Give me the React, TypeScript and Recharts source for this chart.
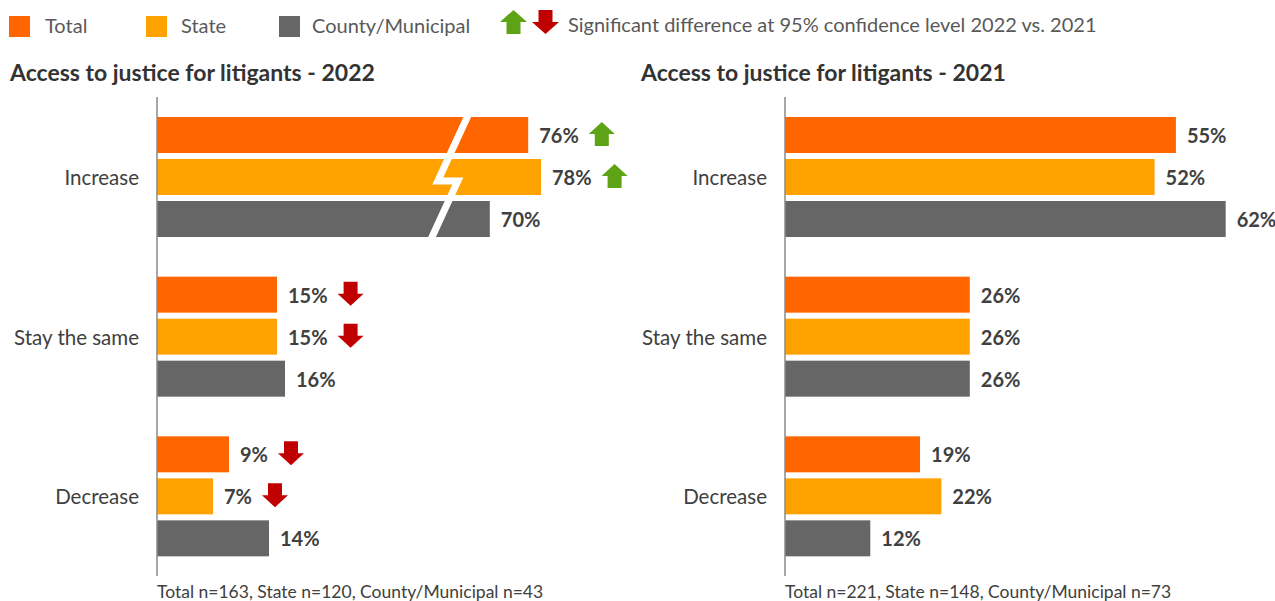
import React from 'react';
import { BarChart, Bar, XAxis, YAxis } from 'recharts';

// ---------- data ----------
const categories = ['Increase', 'Stay the same', 'Decrease'];
const seriesNames = ['Total', 'State', 'County/Municipal'];

const total2022 = [76, 15, 9];
const state2022 = [78, 15, 7];
const county2022 = [70, 16, 14];

const total2021 = [55, 26, 19];
const state2021 = [52, 26, 22];
const county2021 = [62, 26, 12];

// significance vs previous year: 'up' | 'down' | null
const sigTotal2022 = ['up', 'down', 'down'];
const sigState2022 = ['up', 'down', 'down'];
const sigCounty2022 = [null, null, null];

const title2022 = 'Access to justice for litigants - 2022';
const title2021 = 'Access to justice for litigants - 2021';
const footnote2022 = 'Total n=163, State n=120, County/Municipal n=43';
const footnote2021 = 'Total n=221, State n=148, County/Municipal n=73';
const sigLegendText = 'Significant difference at 95% confidence level 2022 vs. 2021';

// ---------- styles ----------
const FONT = 'Lato, "Noto Sans", sans-serif';
const COLORS = ['#FF6600', '#FFA200', '#666666'];
const GREEN = '#5EA316';
const RED = '#C00000';
const LABEL_COLOR = '#404040';

// broken axis for the 2022 chart: values above the break are drawn compressed
const BREAK_THRESHOLD = 40;
const BREAK_RATIO = 0.8;
const BREAK_SHIFT = 14.4;
const broken = (v: number) => (v > BREAK_THRESHOLD ? v * BREAK_RATIO - BREAK_SHIFT : v);
// position of the break mark (in drawn-axis units)
const BREAK_UPPER = 35.1;
const BREAK_LOWER = 37.6;

const BAR_SIZE = 36;
const BAR_GAP = 6;

const data2022 = categories.map((cat, i) => ({
  cat,
  total: total2022[i],
  state: state2022[i],
  county: county2022[i],
  sigtotal: sigTotal2022[i],
  sigstate: sigState2022[i],
  sigcounty: sigCounty2022[i],
}));

const data2021 = categories.map((cat, i) => ({
  cat,
  total: total2021[i],
  state: state2021[i],
  county: county2021[i],
  sigtotal: null,
  sigstate: null,
  sigcounty: null,
}));

let ctx: CanvasRenderingContext2D | null = null;
function measure(text: string, font: string) {
  if (!ctx) {
    const c = document.createElement('canvas');
    ctx = c.getContext('2d');
  }
  if (!ctx) return text.length * 10;
  ctx.font = font;
  return ctx.measureText(text).width;
}

const LABEL_SIZE = 20;

function Arrow({ left, cy, dir, w = 26, h = 24 }: { left: number; cy: number; dir: string; w?: number; h?: number }) {
  const cx = left + w / 2;
  const top = cy - h / 2;
  const stem = 7;
  const head = h / 2;
  let pts: number[][];
  if (dir === 'up') {
    pts = [
      [cx, top],
      [cx + w / 2, top + head],
      [cx + stem, top + head],
      [cx + stem, top + h],
      [cx - stem, top + h],
      [cx - stem, top + head],
      [cx - w / 2, top + head],
    ];
  } else {
    pts = [
      [cx - stem, top],
      [cx + stem, top],
      [cx + stem, top + head],
      [cx + w / 2, top + head],
      [cx, top + h],
      [cx - w / 2, top + head],
      [cx - stem, top + head],
    ];
  }
  return <polygon points={pts.map((p) => p.join(',')).join(' ')} fill={dir === 'up' ? GREEN : RED} />;
}

function makeShape(key: string, color: string, seriesIndex: number, withBreak: boolean) {
  return (props: any) => {
    const { x, y, width, height, payload } = props;
    const raw = payload[key];
    const sig = payload['sig' + key];
    const label = `${raw}%`;
    const lx = x + width + 11;
    const cy = y + height / 2;
    const font = `bold ${LABEL_SIZE}px ${FONT}`;
    const tw = measure(label, font);
    let breakMark = null;
    if (withBreak && seriesIndex === 2 && raw > BREAK_THRESHOLD) {
      const ppu = width / broken(raw);
      const groupTop = y - 2 * (height + BAR_GAP);
      const groupBottom = y + height;
      const zigY = groupTop + 64;
      const xU = x + BREAK_UPPER * ppu;
      const xL = x + BREAK_LOWER * ppu;
      const s = 0.46;
      const pts = [
        [xU + s * (zigY - (groupTop - 2)), groupTop - 2],
        [xU, zigY],
        [xL, zigY],
        [xL - s * (groupBottom + 2 - zigY), groupBottom + 2],
      ];
      breakMark = (
        <polyline
          points={pts.map((p) => p.join(',')).join(' ')}
          fill="none"
          stroke="#ffffff"
          strokeWidth={7}
          strokeLinejoin="miter"
        />
      );
    }
    return (
      <g>
        <rect x={x} y={y} width={width} height={height} fill={color} />
        <text
          x={lx}
          y={cy}
          dominantBaseline="central"
          fontFamily={FONT}
          fontWeight={700}
          fontSize={LABEL_SIZE}
          fill={LABEL_COLOR}
        >
          {label}
        </text>
        {sig && <Arrow left={lx + tw + 10} cy={cy - 1} dir={sig} />}
        {breakMark}
      </g>
    );
  };
}

const CategoryTick = (props: any) => {
  const { x, y, payload } = props;
  return (
    <text x={x} y={y} textAnchor="end" dominantBaseline="central" fontFamily={FONT} fontSize={20.5} fill={LABEL_COLOR}>
      {payload.value}
    </text>
  );
};

function Panel({
  data,
  width,
  yWidth,
  domainMax,
  marginRight,
  valueFn,
  withBreak,
}: {
  data: any[];
  width: number;
  yWidth: number;
  domainMax: number;
  marginRight: number;
  valueFn: (v: number) => number;
  withBreak: boolean;
}) {
  const keys = ['total', 'state', 'county'];
  return (
    <BarChart
      layout="vertical"
      width={width}
      height={479}
      data={data}
      margin={{ top: 0, right: marginRight, bottom: 0, left: 0 }}
      barGap={BAR_GAP}
      style={{ overflow: 'visible' }}
    >
      <XAxis type="number" hide domain={[0, domainMax]} />
      <YAxis
        type="category"
        dataKey="cat"
        width={yWidth}
        tickLine={false}
        tickMargin={12}
        axisLine={{ stroke: '#8a8a8a', strokeWidth: 1.5 }}
        tick={<CategoryTick />}
        interval={0}
      />
      {keys.map((k, i) => (
        <Bar
          key={k}
          name={seriesNames[i]}
          dataKey={(d: any) => valueFn(d[k])}
          fill={COLORS[i]}
          barSize={BAR_SIZE}
          isAnimationActive={false}
          shape={makeShape(k, COLORS[i], i, withBreak)}
        />
      ))}
    </BarChart>
  );
}

export default function App() {
  const legendItems = [
    { sq: 9, tx: 45 },
    { sq: 146, tx: 181 },
    { sq: 279, tx: 312 },
  ];
  return (
    <div
      style={{
        position: 'absolute',
        left: 0,
        top: 0,
        width: 1275,
        height: 601,
        overflow: 'hidden',
        background: '#ffffff',
        fontFamily: FONT,
      }}
    >
      <svg width={1275} height={601} style={{ position: 'absolute', left: 0, top: 0 }}>
        {seriesNames.map((n, i) => (
          <g key={n}>
            <rect x={legendItems[i].sq} y={16} width={21} height={21} fill={COLORS[i]} />
            <text x={legendItems[i].tx} y={33} fontFamily={FONT} fontSize={20} fill="#595959">
              {n}
            </text>
          </g>
        ))}
        <Arrow left={500} cy={22} dir="up" w={27} h={24} />
        <Arrow left={532} cy={22} dir="down" w={27} h={24} />
        <text x={568} y={32} fontFamily={FONT} fontSize={20} fill="#595959">
          {sigLegendText}
        </text>
        <text x={10} y={81} fontFamily={FONT} fontWeight={700} fontSize={23} fill="#333333">
          {title2022}
        </text>
        <text x={641} y={81} fontFamily={FONT} fontWeight={700} fontSize={23} fill="#333333">
          {title2021}
        </text>
        <text x={157} y={598} fontFamily={FONT} fontSize={17.5} fill={LABEL_COLOR}>
          {footnote2022}
        </text>
        <text x={785} y={598} fontFamily={FONT} fontSize={17.5} fill={LABEL_COLOR}>
          {footnote2021}
        </text>
      </svg>
      <div style={{ position: 'absolute', left: 0, top: 97 }}>
        <Panel
          data={data2022}
          width={637}
          yWidth={157}
          domainMax={60}
          marginRight={0}
          valueFn={broken}
          withBreak={true}
        />
      </div>
      <div style={{ position: 'absolute', left: 625, top: 97 }}>
        <Panel
          data={data2021}
          width={650}
          yWidth={160}
          domainMax={65}
          marginRight={28}
          valueFn={(v: number) => v}
          withBreak={false}
        />
      </div>
    </div>
  );
}
